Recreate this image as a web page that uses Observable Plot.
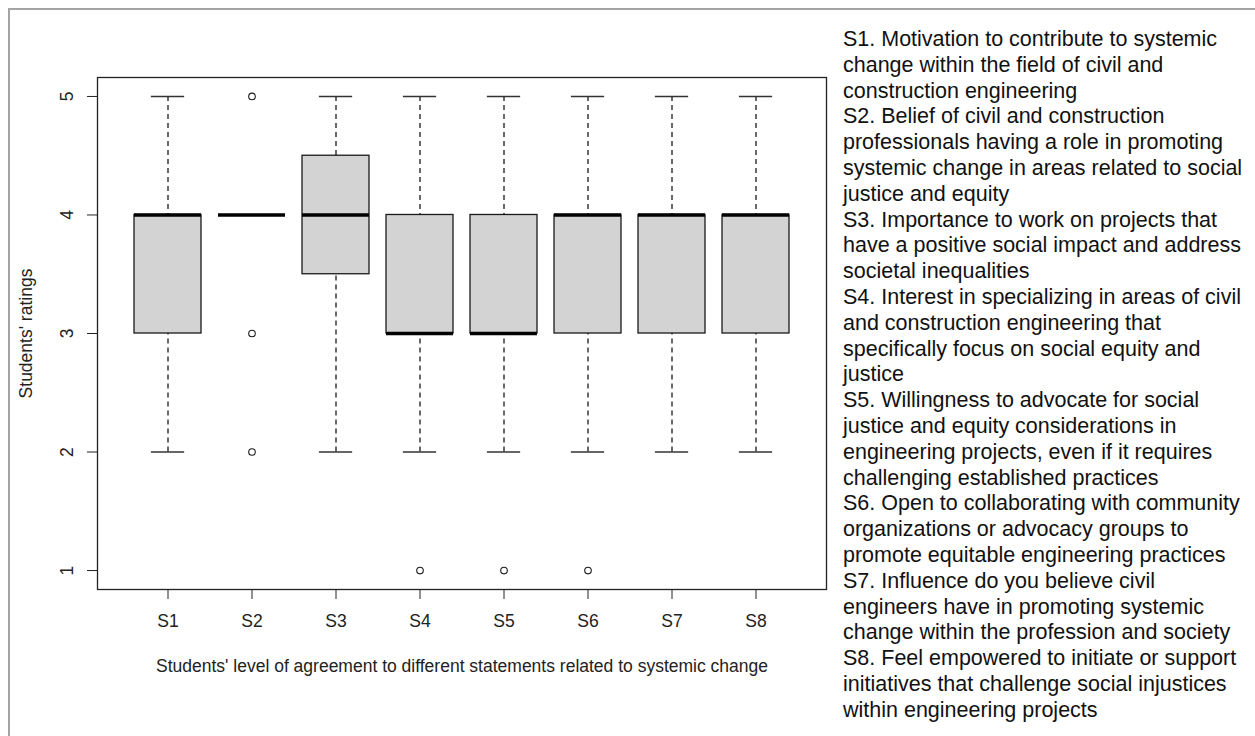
<!DOCTYPE html>
<html>
<head>
<meta charset="utf-8">
<script src="https://cdn.jsdelivr.net/npm/d3@7"></script>
<script src="https://cdn.jsdelivr.net/npm/@observablehq/plot@0.6"></script>
<style>
  body { margin: 0; background: #fff; }
  #fig { position: relative; width: 1255px; height: 736px; overflow: hidden;
         font-family: "Liberation Sans", Arial, sans-serif; background: #fff; }
  #edge { position: absolute; left: 8px; top: 8px; width: 1300px; height: 800px;
          border-top: 2px solid #a4a4a4; border-left: 2px solid #a4a4a4; }
  #chart { position: absolute; left: 0; top: 0; }
  #notes { position: absolute; left: 843px; top: 27px; font-size: 21.5px;
           line-height: 25.8px; color: #111; white-space: pre; }
</style>
</head>
<body>
<div id="fig">
  <div id="edge"></div>
  <div id="chart"></div>
  <div id="notes"></div>
</div>
<script>
// Five-number summaries of the ratings for each statement
const statements     = ["S1", "S2", "S3", "S4", "S5", "S6", "S7", "S8"];
const lowerWhisker   = [2, 4, 2,   2, 2, 2, 2, 2];
const lowerQuartile  = [3, 4, 3.5, 3, 3, 3, 3, 3];
const medians        = [4, 4, 4,   3, 3, 4, 4, 4];
const upperQuartile  = [4, 4, 4.5, 4, 4, 4, 4, 4];
const upperWhisker   = [5, 4, 5,   5, 5, 5, 5, 5];

// Ratings lying outside the whiskers
const outlierStatement = ["S2", "S2", "S2", "S4", "S5", "S6"];
const outlierValue     = [5, 3, 2, 1, 1, 1];

const yTicks = [1, 2, 3, 4, 5];
const yTitle = "Students' ratings";
const xTitle = "Students' level of agreement to different statements related to systemic change";

// Statement wording, one entry per statement (line breaks as set in the key)
const descriptions = [
  "S1. Motivation to contribute to systemic\nchange within the field of civil and\nconstruction engineering",
  "S2. Belief of civil and construction\nprofessionals having a role in promoting\nsystemic change in areas related to social\njustice and equity",
  "S3. Importance to work on projects that\nhave a positive social impact and address\nsocietal inequalities",
  "S4. Interest in specializing in areas of civil\nand construction engineering that\nspecifically focus on social equity and\njustice",
  "S5. Willingness to advocate for social\njustice and equity considerations in\nengineering projects, even if it requires\nchallenging established practices",
  "S6. Open to collaborating with community\norganizations or advocacy groups to\npromote equitable engineering practices",
  "S7. Influence do you believe civil\nengineers have in promoting systemic\nchange within the profession and society",
  "S8. Feel empowered to initiate or support\ninitiatives that challenge social injustices\nwithin engineering projects"
];

const rows = statements.map((s, i) => ({
  statement: s,
  lo: lowerWhisker[i],
  q1: lowerQuartile[i],
  median: medians[i],
  q3: upperQuartile[i],
  hi: upperWhisker[i]
}));
const outliers = outlierStatement.map((s, i) => ({statement: s, value: outlierValue[i]}));

// Layout
const width = 840, height = 736;
const marginLeft = 97, marginRight = 14, marginTop = 77, marginBottom = 147;
const paddingInner = 0.2, paddingOuter = 0.42;
const step = (width - marginLeft - marginRight) / (statements.length - paddingInner + 2 * paddingOuter);
const capInset = step * (1 - paddingInner) / 4; // caps are half the box width

const ink = "#1a1a1a";

const chart = Plot.plot({
  width, height, marginLeft, marginRight, marginTop, marginBottom,
  style: {fontFamily: "'Liberation Sans', Arial, sans-serif", fontSize: "17.5px", color: "#222", background: "transparent"},
  x: {type: "band", domain: statements, paddingInner, paddingOuter, align: 0.5},
  y: {domain: [0.84, 5.16]},
  marks: [
    // dashed whiskers, drawn from the whisker end toward the box
    Plot.ruleX(rows, {x: "statement", y1: "lo", y2: "q1", stroke: ink, strokeWidth: 1.3, strokeDasharray: "5,4"}),
    Plot.ruleX(rows, {x: "statement", y1: "hi", y2: "q3", stroke: ink, strokeWidth: 1.3, strokeDasharray: "5,4"}),
    // whisker caps
    Plot.tickY(rows, {x: "statement", y: "lo", insetLeft: capInset, insetRight: capInset, stroke: "#333", strokeWidth: 1.5}),
    Plot.tickY(rows, {x: "statement", y: "hi", insetLeft: capInset, insetRight: capInset, stroke: "#333", strokeWidth: 1.5}),
    // interquartile boxes
    Plot.barY(rows, {x: "statement", y1: "q1", y2: "q3", fill: "#d3d3d3", stroke: ink, strokeWidth: 1.3}),
    // medians
    Plot.tickY(rows, {x: "statement", y: "median", stroke: "#000", strokeWidth: 3.5}),
    // outliers
    Plot.dot(outliers, {x: "statement", y: "value", r: 3.3, stroke: ink, strokeWidth: 1.1, fill: "none"}),
    Plot.axisY({ticks: yTicks, tickFormat: d => String(d), tickSize: 10, tickRotate: -90, tickPadding: 14.5,
                label: yTitle, labelAnchor: "center", labelArrow: "none", labelOffset: 78}),
    Plot.axisX({tickSize: 10, tickPadding: 15,
                label: xTitle, labelAnchor: "center", labelArrow: "none", labelOffset: 82}),
    Plot.frame({stroke: "#222", strokeWidth: 1.3})
  ]
});
document.getElementById("chart").appendChild(chart);
document.getElementById("notes").textContent = descriptions.join("\n");
</script>
</body>
</html>
